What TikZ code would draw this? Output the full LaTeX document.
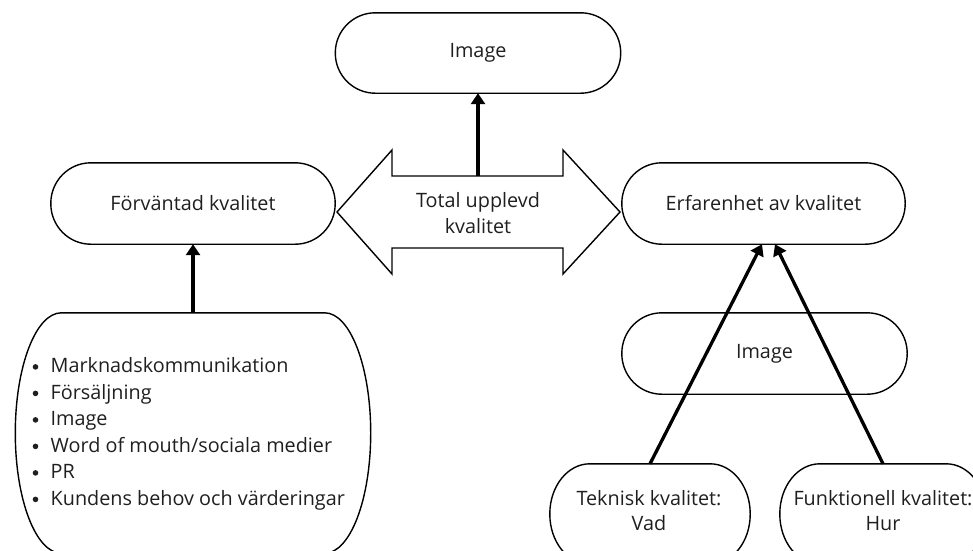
\documentclass[tikz,border=0pt]{standalone}
\usepackage{fontspec}
\setmainfont{Open Sans}
\usetikzlibrary{arrows.meta,calc}
\newcommand\myoval[3]{%
  \draw[outline] ([xshift=#2]#1.north west) -- ([xshift=-#2]#1.north east)
    arc[start angle=90,end angle=0,x radius=#2,y radius=#3]
    -- ([yshift=#3]#1.south east)
    arc[start angle=0,end angle=-90,x radius=#2,y radius=#3]
    -- ([xshift=#2]#1.south west)
    arc[start angle=270,end angle=180,x radius=#2,y radius=#3]
    -- ([yshift=-#3]#1.north west)
    arc[start angle=180,end angle=90,x radius=#2,y radius=#3] -- cycle;}
\begin{document}
\begin{tikzpicture}[x=1pt,y=1pt,
  outline/.style={draw=black, line width=1.4pt, line join=miter},
  box/.style={rectangle, inner sep=0pt, align=center, text=black!88,
    font=\fontsize{19.8}{25}\selectfont},
  item/.style={box, anchor=base west},
  bullet/.style={fill=black!88},
  conn/.style={line width=3.3pt, -{Triangle[width=14pt,length=11pt]}},
  ]
\useasboundingbox (0,0) rectangle (973,-550);

% top image
\node[box, minimum width=285pt, minimum height=80pt] (img1) at (478,-53) {Image};
\myoval{img1}{40pt}{40pt}

% double arrow
\draw[outline] (337,-212) -- (392,-150) -- (392,-176) -- (563,-176) -- (563,-150)
  -- (620,-212) -- (563,-274) -- (563,-248) -- (392,-248) -- (392,-274) -- cycle;
\node[box, font=\fontsize{19.8}{26}\selectfont] (total) at (478,-213) {Total upplevd\\kvalitet};
\coordinate (totaltop) at (478,-176);

% left / right
\node[box, minimum width=284pt, minimum height=81pt] (forv) at (193,-203.5) {Förväntad kvalitet};
\myoval{forv}{40pt}{40.5pt}
\node[box, minimum width=283pt, minimum height=81pt] (erf) at (763.5,-203.5) {Erfarenhet av kvalitet};
\myoval{erf}{40pt}{40.5pt}

% list box
\node[box, minimum width=355pt, minimum height=240pt] (list) at (193,-433) {};
\myoval{list}{46pt}{120pt}
\node[item] (l1) at (50.5,-372.5) {Marknadskommunikation};
\node[item] (l2) at (50.5,-399) {Försäljning};
\node[item] (l3) at (50.5,-425.5) {Image};
\node[item] (l4) at (50.5,-452) {Word of mouth/sociala medier};
\node[item] (l5) at (50.5,-478.5) {PR};
\node[item] (l6) at (50.5,-505) {Kundens behov och värderingar};
\foreach \yy in {372.5,399,425.5,452,478.5,505}
  \fill[bullet] (35.5,-\yy+5.6) circle (2.8pt);

% right image
\node[box, minimum width=285pt, minimum height=81pt] (img2) at (764.5,-353.5) {Image};
\myoval{img2}{40pt}{40.5pt}

% bottom right
\node[box, minimum width=200pt, minimum height=100pt] (tek) at (650,-514) {};
\node[box] (tektext) at (649,-511) {Teknisk kvalitet:\\Vad};
\myoval{tek}{40pt}{50pt}
\node[box, minimum width=206pt, minimum height=100pt] (funk) at (883,-514) {};
\node[box] (funktext) at (883,-511) {Funktionell kvalitet:\\Hur};
\myoval{funk}{40pt}{50pt}

% connectors
\draw[conn] (totaltop) -- (img1.south);
\draw[conn] (list.north) -- (forv.south);
\draw[conn] (tek.north) -- ($(erf.south)+(-1.5,0)$);
\draw[conn] (funk.north) -- ($(erf.south)+(11.5,0)$);
\end{tikzpicture}
\end{document}
